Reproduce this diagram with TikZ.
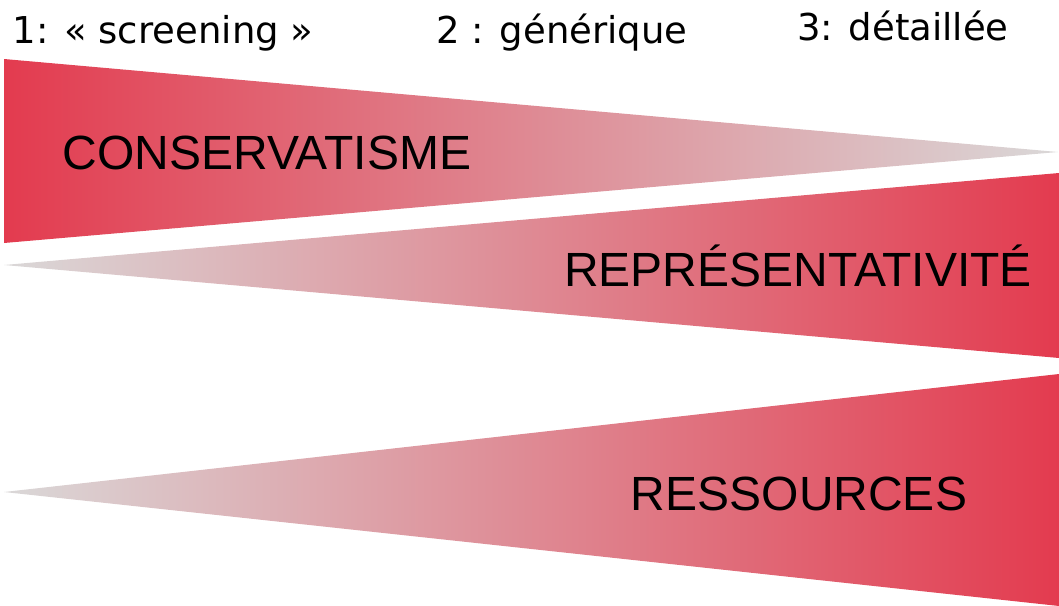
\documentclass[tikz,border=0pt]{standalone}
\usepackage{fontspec}
\setmainfont{Liberation Sans}
\newfontfamily\toplabfont{DejaVu Sans}
\definecolor{wred}{RGB}{227,59,79}
\definecolor{wgrey}{RGB}{218,216,216}
\tikzset{
  wedgeLR/.style={left color=wred, right color=wgrey, draw=none},
  wedgeRL/.style={left color=wgrey, right color=wred, draw=none},
  biglabel/.style={anchor=base, inner sep=0pt, text=black, font=\fontsize{48}{50}\selectfont},
  toplabel/.style={anchor=base, inner sep=0pt, text=black, font=\toplabfont\fontsize{37}{40}\selectfont}
}
\begin{document}
\begin{tikzpicture}[x=1pt,y=-1pt]
\useasboundingbox (0,0) rectangle (1059,605);
\begin{scope}
\clip (0,0) rectangle (1059,605);
\shade[wedgeLR] (4,59) -- (1058,152) -- (4,243) -- cycle;
\shade[wedgeRL] (4,265) -- (1059,173) -- (1059,358) -- cycle;
\shade[wedgeRL] (4,492) -- (1059,374) -- (1059,606) -- cycle;
\end{scope}
\node[toplabel] (l1) at (163,43) {1: « screening »};
\node[toplabel] (l2) at (562,43) {2 : générique};
\node[toplabel] (l3) at (903,40) {3: détaillée};
\node[biglabel] (t1) at (267,169) {CONSERVATISME};
\node[biglabel] (t2) at (798,286) {REPRÉSENTATIVITÉ};
\node[biglabel] (t3) at (799,510) {RESSOURCES};
\end{tikzpicture}
\end{document}
